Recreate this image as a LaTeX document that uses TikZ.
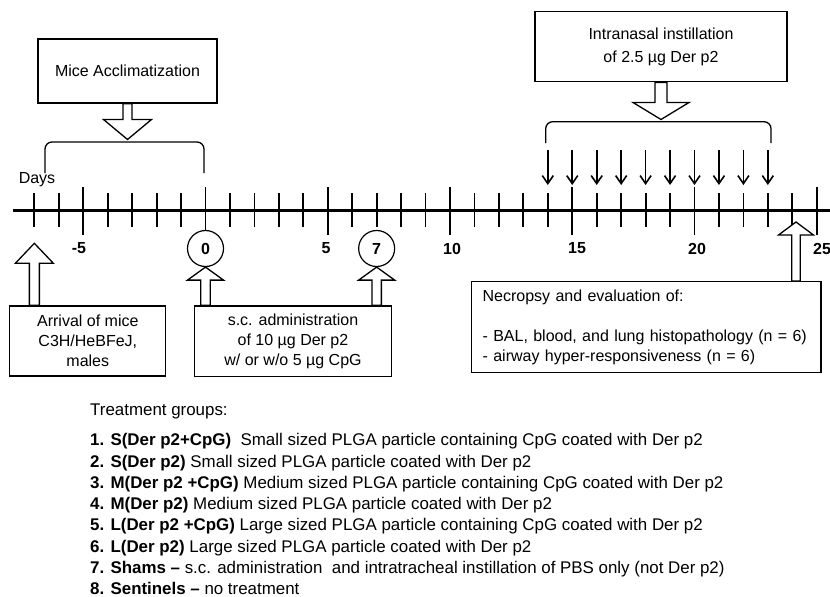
\documentclass[tikz,border=0pt]{standalone}
\usepackage{fontspec}
\setmainfont{Liberation Sans}
\usetikzlibrary{arrows.meta,calc}

% x position of a day on the time line (in px)
\newcommand{\dayx}[1]{205.5+24.45*(#1)}

% hollow block arrow: tail, tip, shaft half width, head half width, head length (signed)
\newcommand{\fatarrow}[5]{%
  \draw[blockarrow] let \p1=#1, \p2=#2, \n1={\y2+(#5)} in
    (\x2-#3,\y1) -- (\x2-#3,\n1) -- (\x2-#4,\n1) -- (\x2,\y2)
    -- (\x2+#4,\n1) -- (\x2+#3,\n1) -- (\x2+#3,\y1) -- cycle;}

\tikzset{
  txt/.style={font=\fontsize{16}{20}\selectfont},
  listtxt/.style={font=\fontsize{16.9}{21}\selectfont},
  box/.style={txt, draw, line width=1.3pt, align=center, inner sep=0pt},
  daylbl/.style={font=\fontsize{16}{20}\selectfont\bfseries},
  daycirc/.style={daylbl, draw, fill=white, circle, minimum size=36pt, inner sep=0pt, line width=1.2pt},
  axisline/.style={line width=2.6pt},
  shorttick/.style={line width=1.8pt},
  longtick/.style={line width=1.8pt},
  bracket/.style={line width=1.3pt, rounded corners=7pt},
  dose/.style={line width=1.6pt, -{Straight Barb[length=8pt,width=11pt]}},
  blockarrow/.style={line width=1.3pt, fill=white, line join=miter},
}

\begin{document}
\begin{tikzpicture}[x=1pt,y=-1pt]
  \useasboundingbox (0,0) rectangle (830,597);

  %% TIME LINE
  \draw[axisline] (12.7,210.7) -- (830,210.7);
  \foreach \d in {-7,...,25}
    \draw[shorttick] ({\dayx{\d}},193) -- ({\dayx{\d}},227);
  \foreach \d in {-5,0,...,25}
    \draw[longtick] ({\dayx{\d}},187) -- ({\dayx{\d}},235);
  \node[txt] (days) at (37,180) {Days};
  % day numbers
  \foreach \d/\lx in {-5/79,5/326,10/452,15/577,20/697,25/822}
    \node[daylbl] (lbl\d) at (\lx,248.5) {\d};
  \node[daycirc] (d0) at ({\dayx{0}},248.5) {0};
  \node[daycirc] (d7) at ({\dayx{7}},248.5) {7};

  %% ACCLIMATIZATION
  \node[box, minimum width=179pt, minimum height=64pt] (acc) at (127.5,71) {Mice Acclimatization};
  \coordinate (br1) at (127.5,139.5);
  \draw[bracket] (45,173) -- (45,142) -- (204,142) -- (204,173);
  \fatarrow{(acc.south)}{(br1)}{4.5pt}{24pt}{20pt}

  %% INTRANASAL CHALLENGE
  \node[box, minimum width=252pt, minimum height=70pt, font=\fontsize{16}{23}\selectfont]
    (intra) at (661,46.7) {Intranasal instillation\\of 2.5 µg Der p2};
  \coordinate (br2) at (661,119.5);
  \draw[bracket] (545.7,143) -- (545.7,121.7) -- (771,121.7) -- (771,143);
  \fatarrow{(intra.south)}{(br2)}{6pt}{28pt}{17pt}
  % daily doses
  \foreach \d in {14,...,23}
    \draw[dose] ({\dayx{\d}},150) -- ({\dayx{\d}},185);

  %% ARRIVAL
  \node[box, minimum width=156pt, minimum height=70pt] (arrival) at (87.8,341)
    {Arrival of mice\\C3H/HeBFeJ,\\males};
  \coordinate (a7) at ({\dayx{-7}},243.3);
  \fatarrow{(a7 |- arrival.north)}{(a7)}{5pt}{19pt}{-20pt}

  %% SENSITIZATION
  \node[box, minimum width=197.4pt, minimum height=70.7pt] (sc) at (293,341.3)
    {s.c. administration\\of 10 µg Der p2\\w/ or w/o 5 µg CpG};
  \fatarrow{(d0 |- sc.north)}{(d0.south)}{4.7pt}{18pt}{-13pt}
  \fatarrow{(d7 |- sc.north)}{(d7.south)}{4.7pt}{18pt}{-13pt}

  %% NECROPSY
  \node[box, align=left, text width=327.3pt, inner xsep=11pt, minimum height=91pt]
    (necro) at (646.3,327.2)
    {Necropsy and evaluation of:\\[20pt]- BAL, blood, and lung histopathology (n = 6)\\- airway hyper-responsiveness (n = 6)};
  \coordinate (t24) at (796,222);
  \fatarrow{(t24 |- necro.north)}{(t24)}{4.2pt}{17.5pt}{-13pt}

  %% TREATMENT GROUPS
  \node[listtxt, anchor=base west] (grphead) at (86.7,415) {Treatment groups:};
  \foreach \i/\g/\t in {
      1/S(Der p2+CpG)/\ Small sized PLGA particle containing CpG coated with Der p2,
      2/S(Der p2)/Small sized PLGA particle coated with Der p2,
      3/M(Der p2 +CpG)/Medium sized PLGA particle containing CpG coated with Der p2,
      4/M(Der p2)/Medium sized PLGA particle coated with Der p2,
      5/L(Der p2 +CpG)/Large sized PLGA particle containing CpG coated with Der p2,
      6/L(Der p2)/Large sized PLGA particle coated with Der p2,
      7/Shams –/s.c. administration\ \ and intratracheal instillation of PBS only (not Der p2),
      8/Sentinels –/no treatment}
    \node[listtxt, anchor=base west] (grp\i) at (86.7,{445.7+21.3*(\i-1)}) {{\bfseries\i. \g} \t};
\end{tikzpicture}
\end{document}
